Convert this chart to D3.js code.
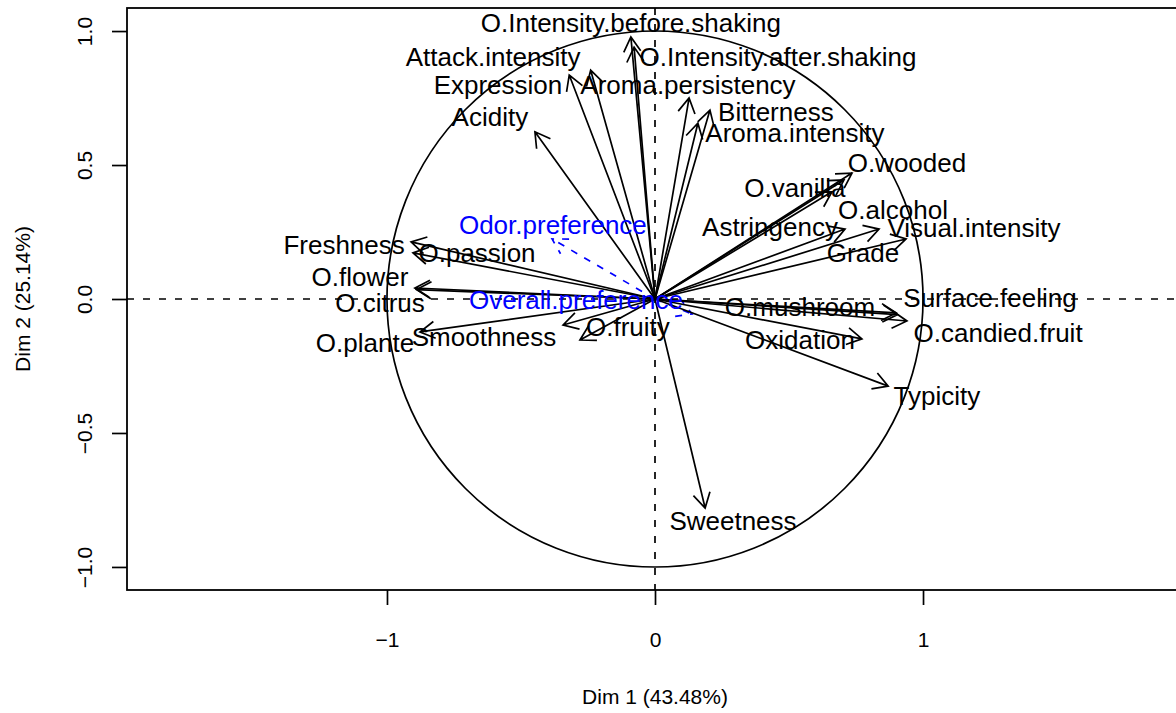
<!DOCTYPE html>
<html>
<head>
<meta charset="utf-8">
<script src="https://cdn.jsdelivr.net/npm/d3@7"></script>
<style>
  body { margin: 0; background: #fff; }
  text { font-family: "Liberation Sans", Arial, Helvetica, sans-serif; }
</style>
</head>
<body>
<div id="pca-var-map"></div>
<script>

// active variables: coordinates on Dim 1 / Dim 2
var varNames = ["O.Intensity.before.shaking", "O.Intensity.after.shaking", "Attack.intensity", "Expression",
    "Acidity", "Aroma.persistency", "Bitterness", "Aroma.intensity", "O.wooded", "O.alcohol", "O.vanilla",
    "Astringency", "Visual.intensity", "Grade", "O.mushroom", "Surface.feeling", "O.candied.fruit",
    "Oxidation", "Typicity", "Sweetness", "Freshness", "O.passion", "O.flower", "O.citrus",
    "O.plante", "Smoothness", "O.fruity"];
var dim1 = [-0.090, -0.078, -0.240, -0.320, -0.448, 0.127, 0.205, 0.160, 0.735, 0.705, 0.660,
    0.709, 0.836, 0.937, 0.900, 0.905, 0.940, 0.772, 0.870, 0.187, -0.910, -0.903, -0.896, -0.890,
    -0.877, -0.343, -0.280];
var dim2 = [0.978, 0.940, 0.854, 0.836, 0.624, 0.750, 0.705, 0.656, 0.470, 0.444, 0.400,
    0.261, 0.261, 0.224, -0.052, -0.058, -0.082, -0.149, -0.325, -0.780, 0.213, 0.172, 0.041, 0.035,
    -0.123, -0.097, -0.153];
// label positions (as placed by autoLab)
var labX = [-0.090, 0.459, -0.604, -0.586, -0.616, 0.123, 0.451, 0.522, 0.940, 0.888, 0.522,
    0.429, 1.190, 0.776, 0.541, 1.250, 1.280, 0.541, 1.052, 0.291, -1.160, -0.664, -1.101, -1.026,
    -1.082, -0.638, -0.101];
var labY = [1.030, 0.903, 0.903, 0.799, 0.679, 0.799, 0.698, 0.619, 0.507, 0.332, 0.414,
    0.269, 0.265, 0.172, -0.030, 0.004, -0.127, -0.153, -0.362, -0.828, 0.201, 0.172, 0.082, -0.015,
    -0.164, -0.142, -0.104];

// supplementary variables
var supNames = ["Odor.preference", "Overall.preference"];
var supDim1 = [-0.384, 0.138];
var supDim2 = [0.224, -0.056];
var supLabX = [-0.381, -0.295];
var supLabY = [0.276, -0.004];

var xTicks = [-1, 0, 1];
var yTicks = [-1, -0.5, 0, 0.5, 1];
var xTitle = "Dim 1 (43.48%)";
var yTitle = "Dim 2 (25.14%)";

var width = 1176,
    height = 713;
var plotLeft = 127, plotRight = 1183, plotTop = 8, plotBottom = 590;

var svg = d3.select("#pca-var-map")
    .append("svg")
    .attr("width", width)
    .attr("height", height);

var xScale = d3.scaleLinear().domain([-1.97, 1.97]).range([plotLeft, plotRight]);
var yScale = d3.scaleLinear().domain([-1.086, 1.086]).range([plotBottom, plotTop]);

// unit circle
svg.append("circle")
    .attr("cx", xScale(0))
    .attr("cy", yScale(0))
    .attr("r", xScale(1) - xScale(0))
    .attr("fill", "none")
    .attr("stroke", "black")
    .attr("stroke-width", 1.7);

// dashed axes through origin
svg.append("line")
    .attr("x1", plotLeft).attr("x2", plotRight)
    .attr("y1", yScale(0)).attr("y2", yScale(0))
    .attr("stroke", "black").attr("stroke-width", 1.7)
    .attr("stroke-dasharray", "7,9");
svg.append("line")
    .attr("x1", xScale(0)).attr("x2", xScale(0))
    .attr("y1", plotTop).attr("y2", plotBottom)
    .attr("stroke", "black").attr("stroke-width", 1.7)
    .attr("stroke-dasharray", "7,9");

// arrow = shaft + two barbs (like R arrows(length=0.1, angle=30))
function arrowPath(x, y) {
    var x0 = xScale(0), y0 = yScale(0);
    var x1 = xScale(x), y1 = yScale(y);
    var a = Math.atan2(y1 - y0, x1 - x0);
    var len = 17, ang = Math.PI / 6;
    var p = d3.path();
    p.moveTo(x0, y0);
    p.lineTo(x1, y1);
    p.moveTo(x1 - len * Math.cos(a - ang), y1 - len * Math.sin(a - ang));
    p.lineTo(x1, y1);
    p.lineTo(x1 - len * Math.cos(a + ang), y1 - len * Math.sin(a + ang));
    return p.toString();
}

svg.selectAll(".sup-arrow")
    .data(supNames)
    .enter()
    .append("path")
    .attr("class", "sup-arrow")
    .attr("d", function(d, i) { return arrowPath(supDim1[i], supDim2[i]); })
    .attr("fill", "none")
    .attr("stroke", "#0000ff")
    .attr("stroke-width", 1.7)
    .attr("stroke-dasharray", "7,8");

svg.selectAll(".var-arrow")
    .data(varNames)
    .enter()
    .append("path")
    .attr("class", "var-arrow")
    .attr("d", function(d, i) { return arrowPath(dim1[i], dim2[i]); })
    .attr("fill", "none")
    .attr("stroke", "black")
    .attr("stroke-width", 1.7);

// labels
svg.selectAll(".var-label")
    .data(varNames)
    .enter()
    .append("text")
    .attr("class", "var-label")
    .attr("x", function(d, i) { return xScale(labX[i]); })
    .attr("y", function(d, i) { return yScale(labY[i]); })
    .attr("dy", "0.35em")
    .attr("text-anchor", "middle")
    .style("font-size", "26px")
    .attr("fill", "black")
    .text(function(d) { return d; });

svg.selectAll(".sup-label")
    .data(supNames)
    .enter()
    .append("text")
    .attr("class", "sup-label")
    .attr("x", function(d, i) { return xScale(supLabX[i]); })
    .attr("y", function(d, i) { return yScale(supLabY[i]); })
    .attr("dy", "0.35em")
    .attr("text-anchor", "middle")
    .style("font-size", "26px")
    .attr("fill", "#0000ff")
    .text(function(d) { return d; });

// box
svg.append("rect")
    .attr("x", plotLeft)
    .attr("y", plotTop)
    .attr("width", plotRight - plotLeft)
    .attr("height", plotBottom - plotTop)
    .attr("fill", "none")
    .attr("stroke", "black")
    .attr("stroke-width", 1.8);

// axes
var xAxis = d3.axisBottom(xScale)
    .tickValues(xTicks)
    .tickSize(15)
    .tickSizeOuter(0)
    .tickFormat(d3.format("d"));

var gx = svg.append("g")
    .attr("class", "axis x-axis")
    .attr("transform", "translate(0," + plotBottom + ")")
    .call(xAxis);
gx.select(".domain").remove();
gx.selectAll("line").attr("stroke-width", 1.7);
gx.selectAll("text")
    .attr("y", 50)
    .attr("dy", "0.35em")
    .style("font-size", "21px")
    .style("font-family", "Liberation Sans, Arial, sans-serif");

var yAxis = d3.axisLeft(yScale)
    .tickValues(yTicks)
    .tickSize(15)
    .tickSizeOuter(0)
    .tickFormat(d3.format(".1f"));

var gy = svg.append("g")
    .attr("class", "axis y-axis")
    .attr("transform", "translate(" + plotLeft + ",0)")
    .call(yAxis);
gy.select(".domain").remove();
gy.selectAll("line").attr("stroke-width", 1.7);
gy.selectAll("text")
    .attr("x", null)
    .attr("dy", null)
    .attr("text-anchor", "middle")
    .attr("dominant-baseline", "central")
    .attr("transform", "translate(-43,0) rotate(-90)")
    .style("font-size", "21px")
    .style("font-family", "Liberation Sans, Arial, sans-serif");

// axis titles
svg.append("text")
    .attr("x", xScale(0))
    .attr("y", 697)
    .attr("dy", "0.35em")
    .attr("text-anchor", "middle")
    .style("font-size", "21px")
    .text(xTitle);

svg.append("text")
    .attr("transform", "translate(23," + yScale(0) + ") rotate(-90)")
    .attr("dy", "0.35em")
    .attr("text-anchor", "middle")
    .style("font-size", "21px")
    .text(yTitle);

</script>
</body>
</html>
